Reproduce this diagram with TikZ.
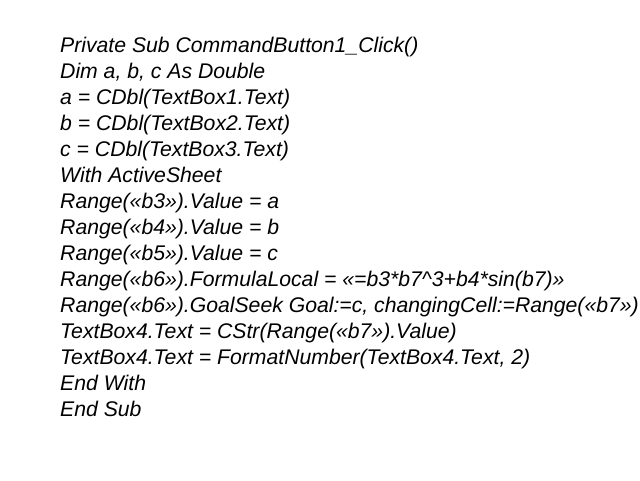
\documentclass[tikz,border=0pt]{standalone}
\usepackage{fontspec}
\setmainfont{Liberation Sans}
\tikzset{codeline/.style={anchor=base west, inner sep=0pt, font=\fontsize{21.2}{24}\selectfont\itshape}}
\begin{document}
\begin{tikzpicture}[x=1pt,y=1pt]
	\useasboundingbox (0,0) rectangle (640,-480);
	\node (l1) [codeline] at (60,-52) {Private Sub CommandButton1\_Click()};
	\node (l2) [codeline] at (60,-78) {Dim a, b, c As Double};
	\node (l3) [codeline] at (60,-104) {a = CDbl(TextBox1.Text)};
	\node (l4) [codeline] at (60,-130) {b = CDbl(TextBox2.Text)};
	\node (l5) [codeline] at (60,-156) {c = CDbl(TextBox3.Text)};
	\node (l6) [codeline] at (60,-182) {With ActiveSheet};
	\node (l7) [codeline] at (60,-208) {Range(«b3»).Value = a};
	\node (l8) [codeline] at (60,-234) {Range(«b4»).Value = b};
	\node (l9) [codeline] at (60,-260) {Range(«b5»).Value = c};
	\node (l10) [codeline] at (60,-286) {Range(«b6»).FormulaLocal = «=b3*b7\textasciicircum 3+b4*sin(b7)»};
	\node (l11) [codeline] at (60,-312) {Range(«b6»).GoalSeek Goal:=c, changingCell:=Range(«b7»)};
	\node (l12) [codeline] at (60,-338) {TextBox4.Text = CStr(Range(«b7»).Value)};
	\node (l13) [codeline] at (60,-364) {TextBox4.Text = FormatNumber(TextBox4.Text, 2)};
	\node (l14) [codeline] at (60,-390) {End With};
	\node (l15) [codeline] at (60,-416) {End Sub};
\end{tikzpicture}
\end{document}
